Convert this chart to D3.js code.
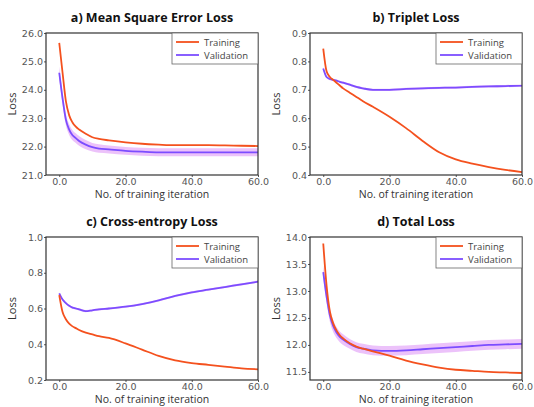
<!DOCTYPE html>
<html>
<head>
<meta charset="utf-8">
<script src="https://cdn.jsdelivr.net/npm/d3@7"></script>
<style>
  body { margin: 0; background: #fff; }
  svg { display: block; }
</style>
</head>
<body>
<div id="chart"></div>
<script>
const width = 534;
const height = 407;

// shared training iterations
const iterations = [0, 1, 2, 3, 4, 5, 6, 8, 10, 12, 15, 20, 25, 30, 35, 40, 45, 50, 55, 60];
const xTicks = [0, 20, 40, 60];

const mseTrain = [25.65, 24.6, 23.6, 23.1, 22.85, 22.7, 22.6, 22.45, 22.33, 22.27, 22.22, 22.15, 22.1, 22.07, 22.05, 22.05, 22.05, 22.04, 22.03, 22.02];
const mseVal = [24.6, 23.7, 22.95, 22.6, 22.4, 22.3, 22.2, 22.07, 21.98, 21.93, 21.9, 21.85, 21.82, 21.8, 21.8, 21.8, 21.8, 21.8, 21.8, 21.8];
const mseBand = [0.22, 0.22, 0.2, 0.19, 0.18, 0.17, 0.17, 0.16, 0.15, 0.15, 0.14, 0.14, 0.14, 0.14, 0.14, 0.14, 0.14, 0.14, 0.14, 0.14];

const tripletTrain = [0.845, 0.765, 0.745, 0.735, 0.725, 0.715, 0.705, 0.69, 0.675, 0.66, 0.64, 0.605, 0.565, 0.52, 0.48, 0.455, 0.44, 0.428, 0.418, 0.41];
const tripletVal = [0.775, 0.745, 0.738, 0.735, 0.732, 0.728, 0.725, 0.718, 0.71, 0.705, 0.70, 0.70, 0.703, 0.705, 0.707, 0.708, 0.71, 0.712, 0.713, 0.715];
const tripletBand = [0.005, 0.004, 0.004, 0.004, 0.004, 0.004, 0.004, 0.004, 0.004, 0.004, 0.004, 0.004, 0.004, 0.004, 0.004, 0.004, 0.004, 0.004, 0.004, 0.004];

const ceTrain = [0.675, 0.58, 0.54, 0.515, 0.5, 0.49, 0.48, 0.465, 0.455, 0.445, 0.435, 0.405, 0.37, 0.335, 0.31, 0.295, 0.285, 0.275, 0.265, 0.26];
const ceVal = [0.685, 0.65, 0.63, 0.615, 0.605, 0.6, 0.595, 0.585, 0.59, 0.595, 0.6, 0.61, 0.625, 0.645, 0.67, 0.69, 0.705, 0.72, 0.735, 0.75];
const ceBand = [0.006, 0.006, 0.006, 0.006, 0.006, 0.006, 0.006, 0.006, 0.006, 0.006, 0.006, 0.006, 0.006, 0.006, 0.006, 0.006, 0.006, 0.006, 0.006, 0.006];

const totalTrain = [13.88, 13.1, 12.62, 12.4, 12.27, 12.18, 12.12, 12.03, 11.97, 11.93, 11.88, 11.8, 11.71, 11.64, 11.58, 11.54, 11.52, 11.5, 11.49, 11.48];
const totalVal = [13.35, 12.9, 12.55, 12.35, 12.23, 12.15, 12.1, 12.02, 11.96, 11.93, 11.9, 11.89, 11.9, 11.92, 11.94, 11.96, 11.98, 12.0, 12.01, 12.02];
const totalBand = [0.12, 0.12, 0.12, 0.11, 0.1, 0.1, 0.1, 0.09, 0.09, 0.09, 0.09, 0.09, 0.09, 0.09, 0.09, 0.09, 0.09, 0.09, 0.09, 0.09];

const titles = ["a) Mean Square Error Loss", "b) Triplet Loss", "c) Cross-entropy Loss", "d) Total Loss"];
const yDomains = [[21, 26], [0.4, 0.9], [0.2, 1.0], [11.35, 14.0]];
const yTicks = [[21, 22, 23, 24, 25, 26], [0.4, 0.5, 0.6, 0.7, 0.8, 0.9], [0.2, 0.4, 0.6, 0.8, 1.0], [11.5, 12.0, 12.5, 13.0, 13.5, 14.0]];
const seriesNames = ["Training", "Validation"];

const panels = [
  { title: titles[0], yDomain: yDomains[0], yTicks: yTicks[0], train: mseTrain, val: mseVal, band: mseBand, box: [46, 258, 33, 175] },
  { title: titles[1], yDomain: yDomains[1], yTicks: yTicks[1], train: tripletTrain, val: tripletVal, band: tripletBand, box: [310, 522, 33, 175] },
  { title: titles[2], yDomain: yDomains[2], yTicks: yTicks[2], train: ceTrain, val: ceVal, band: ceBand, box: [46, 258, 237, 380] },
  { title: titles[3], yDomain: yDomains[3], yTicks: yTicks[3], train: totalTrain, val: totalVal, band: totalBand, box: [310, 522, 237, 380] }
];

const trainColor = "#f4511e";
const valColor = "#7c4dff";
const bandColor = "#dc8ff5";
const tickFont = "DejaVu Sans";
const labelFont = "Open Sans";

const svg = d3.select("#chart").append("svg")
  .attr("width", width)
  .attr("height", height);

panels.forEach(p => {
  const [left, right, top, bottom] = p.box;
  const x = d3.scaleLinear([-4, 60], [left, right]);
  const y = d3.scaleLinear(p.yDomain, [bottom, top]);
  const g = svg.append("g");

  // confidence band for validation
  const area = d3.area()
    .x((d, i) => x(iterations[i]))
    .y0((d, i) => y(p.val[i] - p.band[i]))
    .y1((d, i) => y(p.val[i] + p.band[i]))
    .curve(d3.curveMonotoneX);
  g.append("path")
    .attr("d", area(p.val))
    .attr("fill", bandColor)
    .attr("opacity", 0.55);

  const line = d3.line()
    .x((d, i) => x(iterations[i]))
    .y(d => y(d))
    .curve(d3.curveMonotoneX);
  g.append("path")
    .attr("d", line(p.val))
    .attr("fill", "none")
    .attr("stroke", valColor)
    .attr("stroke-width", 1.8);
  g.append("path")
    .attr("d", line(p.train))
    .attr("fill", "none")
    .attr("stroke", trainColor)
    .attr("stroke-width", 1.8);

  // axes
  const xAxis = g.append("g")
    .attr("transform", `translate(0,${bottom})`)
    .call(d3.axisBottom(x).tickValues(xTicks).tickFormat(d3.format(".1f")).tickSize(2).tickPadding(1));
  const yAxis = g.append("g")
    .attr("transform", `translate(${left},0)`)
    .call(d3.axisLeft(y).tickValues(p.yTicks).tickFormat(d3.format(".1f")).tickSize(2).tickPadding(1));
  [xAxis, yAxis].forEach(a => {
    a.select(".domain").remove();
    a.selectAll("line").attr("stroke", "#555");
    a.selectAll("text")
      .attr("fill", "#555")
      .style("font-family", tickFont)
      .style("font-size", "9.5px");
  });

  // frame
  g.append("rect")
    .attr("x", left).attr("y", top)
    .attr("width", right - left).attr("height", bottom - top)
    .attr("fill", "none")
    .attr("stroke", "#333")
    .attr("stroke-width", 1.2);

  // title and labels
  g.append("text")
    .attr("x", (left + right) / 2)
    .attr("y", top - 11)
    .attr("text-anchor", "middle")
    .style("font-family", labelFont)
    .style("font-weight", "bold")
    .style("font-size", "12.5px")
    .attr("fill", "#111")
    .text(p.title);
  g.append("text")
    .attr("x", (left + right) / 2)
    .attr("y", bottom + 23)
    .attr("text-anchor", "middle")
    .style("font-family", labelFont)
    .style("font-size", "10.5px")
    .attr("fill", "#333")
    .text("No. of training iteration");
  g.append("text")
    .attr("transform", `translate(${left - 30},${(top + bottom) / 2}) rotate(-90)`)
    .attr("text-anchor", "middle")
    .style("font-family", labelFont)
    .style("font-size", "11px")
    .attr("fill", "#333")
    .text("Loss");

  // legend
  const lg = g.append("g").attr("transform", `translate(${right - 86},${top})`);
  lg.append("rect")
    .attr("width", 86).attr("height", 31)
    .attr("fill", "#fff")
    .attr("stroke", "#666")
    .attr("stroke-width", 0.8);
  seriesNames.forEach((name, i) => {
    const ly = 9 + i * 13;
    lg.append("line")
      .attr("x1", 4).attr("x2", 27)
      .attr("y1", ly).attr("y2", ly)
      .attr("stroke", i === 0 ? trainColor : valColor)
      .attr("stroke-width", 1.8);
    lg.append("text")
      .attr("x", 32).attr("y", ly + 3.5)
      .style("font-family", labelFont)
      .style("font-size", "9.5px")
      .attr("fill", "#444")
      .text(name);
  });
});
</script>
</body>
</html>
